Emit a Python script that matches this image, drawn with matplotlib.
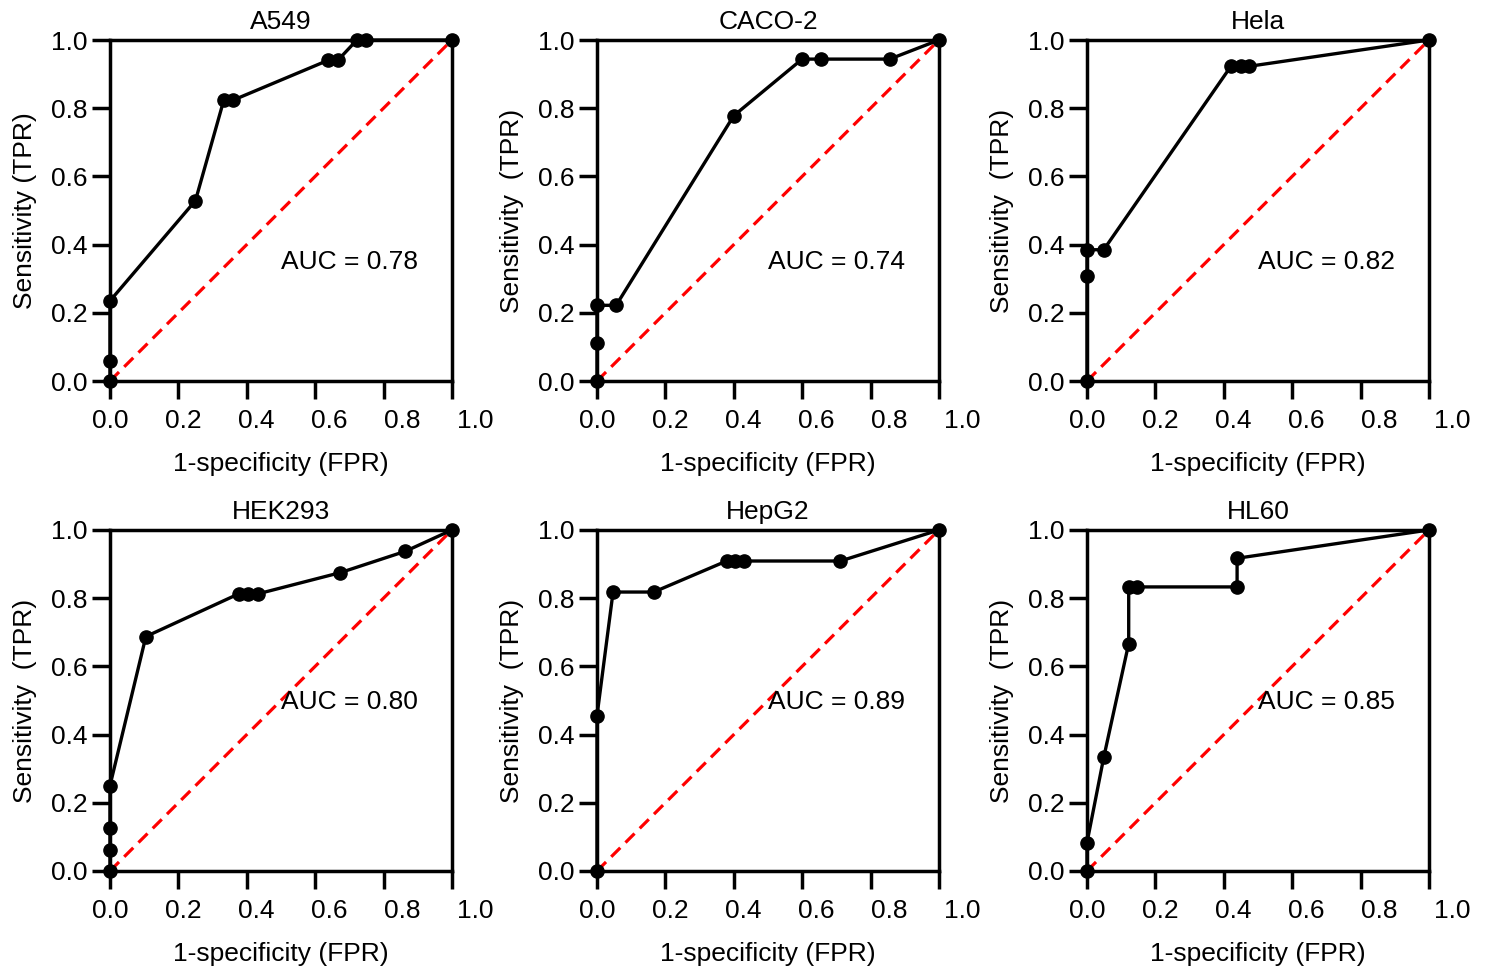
import matplotlib
matplotlib.use("Agg")
import matplotlib.pyplot as plt
from matplotlib.transforms import ScaledTranslation

# フォントなどの設定
plt.rcParams["font.family"] = ["Liberation Sans", "DejaVu Sans"]
plt.rcParams["font.size"] = 19

# ROCデータ (FPR, TPR)
titles = ["A549", "CACO-2", "Hela", "HEK293", "HepG2", "HL60"]
auc_values = [0.78, 0.74, 0.82, 0.80, 0.89, 0.85]

a549_fpr = [0, 0, 0, 0.25, 0.333, 0.361, 0.639, 0.667, 0.722, 0.75, 1.0]
a549_tpr = [0, 0.059, 0.235, 0.529, 0.824, 0.824, 0.941, 0.941, 1.0, 1.0, 1.0]

caco2_fpr = [0, 0, 0, 0.056, 0.4, 0.6, 0.656, 0.856, 1.0]
caco2_tpr = [0, 0.111, 0.222, 0.222, 0.778, 0.944, 0.944, 0.944, 1.0]

hela_fpr = [0, 0, 0, 0.049, 0.421, 0.449, 0.475, 1.0]
hela_tpr = [0, 0.308, 0.385, 0.385, 0.923, 0.923, 0.923, 1.0]

hek293_fpr = [0, 0, 0, 0, 0.105, 0.376, 0.404, 0.432, 0.674, 0.864, 1.0]
hek293_tpr = [0, 0.0625, 0.125, 0.25, 0.6875, 0.8125, 0.8125, 0.8125, 0.875, 0.9375, 1.0]

hepg2_fpr = [0, 0, 0.047, 0.166, 0.379, 0.405, 0.429, 0.712, 1.0]
hepg2_tpr = [0, 0.455, 0.818, 0.818, 0.909, 0.909, 0.909, 0.909, 1.0]

hl60_fpr = [0, 0, 0.049, 0.122, 0.122, 0.146, 0.439, 0.439, 1.0]
hl60_tpr = [0, 0.083, 0.333, 0.667, 0.833, 0.833, 0.833, 0.917, 1.0]

fpr_list = [a549_fpr, caco2_fpr, hela_fpr, hek293_fpr, hepg2_fpr, hl60_fpr]
tpr_list = [a549_tpr, caco2_tpr, hela_tpr, hek293_tpr, hepg2_tpr, hl60_tpr]
ylabels = ["Sensitivity (TPR)"] + ["Sensitivity  (TPR)"] * 5

tick_values = [0.0, 0.2, 0.4, 0.6, 0.8, 1.0]
tick_labels = ["0.0", "0.2", "0.4", "0.6", "0.8", "1.0"]

fig = plt.figure(figsize=(14.88, 9.71), dpi=100)

lefts = [0.0739, 0.4012, 0.7305]
bottoms = [0.6076, 0.1030]
w, h = 0.2298, 0.3512
auc_y = [0.35, 0.495]

for i in range(6):
    r, c = divmod(i, 3)
    ax = fig.add_axes([lefts[c], bottoms[r], w, h])

    # 対角線 (ランダム分類)
    ax.plot([0, 1], [0, 1], color="#ff0000", linewidth=2.3, dashes=(4.0, 2.3), zorder=2)
    # ROC曲線
    ax.plot(fpr_list[i], tpr_list[i], color="k", linewidth=2.4, marker="o",
            markersize=9.5, clip_on=False, zorder=3)

    ax.set_xlim(0, 1)
    ax.set_ylim(0, 1)
    ax.set_xticks(tick_values)
    ax.set_xticklabels(tick_labels)
    ax.set_yticks(tick_values)
    ax.set_yticklabels(tick_labels)

    for sp in ax.spines.values():
        sp.set_linewidth(2.5)
    ax.tick_params(axis="both", direction="out", length=13, width=2.5)
    ax.tick_params(axis="x", pad=7)
    ax.tick_params(axis="y", pad=3)

    # x軸ラベルのずれ (元の図に合わせる)
    for k, lbl in enumerate(ax.get_xticklabels()):
        lbl.set_transform(lbl.get_transform() + ScaledTranslation(k * 0.046, 0, fig.dpi_scale_trans))

    ax.set_title(titles[i], fontsize=19, pad=8)
    ax.set_xlabel("1-specificity (FPR)", labelpad=14)
    ax.set_ylabel(ylabels[i], labelpad=10)

    ax.text(0.5, auc_y[r], "AUC = %.2f" % auc_values[i], ha="left", va="center", fontsize=19)

fig.savefig("out.png", dpi=100)
